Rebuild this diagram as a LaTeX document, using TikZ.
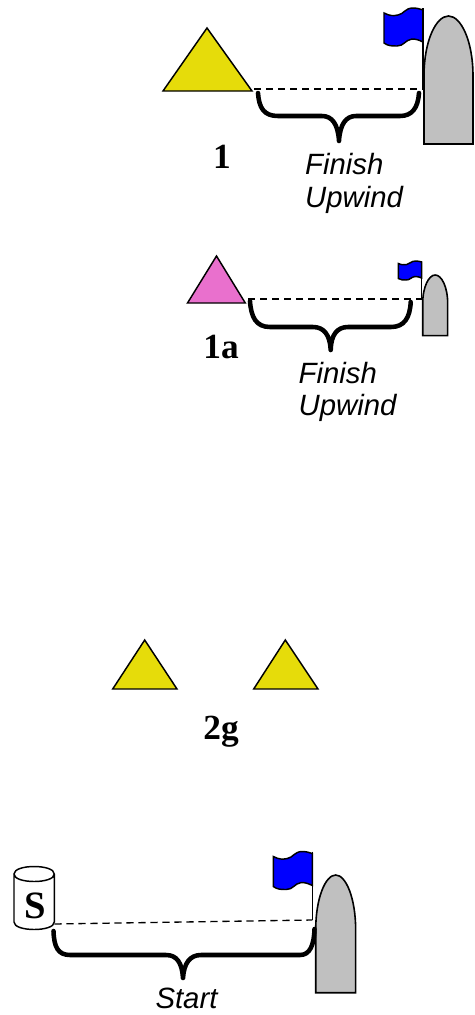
\documentclass[tikz,border=0pt]{standalone}
\usepackage{fontspec}
\setmainfont{Liberation Serif}
\newfontfamily\capfont{Liberation Sans}
\usetikzlibrary{positioning}
\definecolor{buoyyellow}{HTML}{E6DC0A}
\definecolor{buoypink}{HTML}{E970CD}
\definecolor{flagblue}{HTML}{0000FF}
\definecolor{boatgray}{HTML}{C0C0C0}
\tikzset{
  buoy/.style={draw=black,line width=1.1pt,line join=miter},
  boatline/.style={draw=black,fill=boatgray,line width=1.2pt},
  flagline/.style={draw=black,fill=flagblue,line width=1.1pt},
  pole/.style={draw=black,line width=1pt},
  finishline/.style={draw=black,line width=1pt,dash pattern=on 5.5pt off 3.5pt},
  holdbrace/.style={draw=black,line width=3.4pt,line cap=round,line join=round},
  marklabel/.style={font=\fontsize{26.5}{26.5}\selectfont\bfseries,inner sep=0pt},
  startnote/.style={font=\capfont\itshape\fontsize{22}{24.5}\selectfont,inner sep=0pt},
  sidenote/.style={startnote,align=left},
  pics/waveflag/.style={code={
    \path[flagline] (0,5) .. controls (6,8) and (9,8) .. (14,7) .. controls (20,6) and (21,0) .. (29,0)
      .. controls (33,0) and (36,1) .. (39,2) -- (39,34) .. controls (35,32) and (32,31) .. (28,31)
      .. controls (21,32) and (20,38) .. (13,38) .. controls (8,38) and (4,38) .. (0,35) -- cycle;
  }},
  pics/boathull/.style={code={
    \path[boatline] (0,128) -- (0,60) .. controls (0,25) and (12,0) .. (24.5,0)
      .. controls (37,0) and (49,25) .. (49,60) -- (49,128) -- cycle;
  }}
}
\begin{document}
\begin{tikzpicture}[x=0.75pt,y=-0.75pt]
  \useasboundingbox (0,0) rectangle (475,1015);

  % first row
  \path[buoy,fill=buoyyellow] (207,28) -- (252,91) coordinate (mark1) -- (163,91) -- cycle;
  \pic at (384,8) {waveflag};
  \pic at (424,16) {boathull};
  \draw[pole] (423,8) coordinate (top1) -- (423,89) coordinate (end1);
  \draw[finishline] (mark1) ++(2,-2) coordinate (start1) -- (end1);
  \coordinate (brl1) at (258,93);
  \coordinate (brr1) at (419,93);
  \coordinate (tip1) at (339,141);
  \draw[holdbrace] (brl1) .. controls (259,108) and (264,116) .. (278,116) -- (322,116)
    .. controls (332,116) and (338,124) .. (tip1)
    .. controls (340,124) and (346,116) .. (356,116) -- (400,116)
    .. controls (412,116) and (418,108) .. (brr1);
  \node[marklabel] (lab1) at (222,157) {1};
  \node[sidenote] (note1) at (354,183.5) {Finish\\Upwind};

  % second row
  \path[buoy,fill=buoypink] (216.5,256) -- (245.3,303) coordinate (mark1a) -- (187.5,303) -- cycle;
  \pic[xscale=0.6,yscale=0.5] at (398.3,261) {waveflag};
  \pic[xscale=0.51,yscale=0.474] at (422.7,275) {boathull};
  \draw[pole] (421.7,261) coordinate (top1a) -- (421.7,299) coordinate (end1a);
  \coordinate (start1a) at (248,299);
  \draw[finishline] (start1a) -- (end1a);
  \coordinate (brl1a) at (250,301);
  \coordinate (brr1a) at (410.7,302);
  \coordinate (tip1a) at (330.7,350);
  \draw[holdbrace] (brl1a) .. controls (251,317) and (256,327) .. (270,327) -- (313,327)
    .. controls (324,327) and (330,335) .. (tip1a)
    .. controls (331,335) and (337,327) .. (348,327) -- (391,327)
    .. controls (404,327) and (410,318) .. (brr1a);
  \node[marklabel] (lab1a) at (221,347) {1a};
  \node[sidenote] (note1a) at (347.5,392) {Finish\\Upwind};

  % third row
  \path[buoy,fill=buoyyellow] (144.7,640) -- (177,689) -- (112.7,689) -- cycle;
  \path[buoy,fill=buoyyellow] (285.3,640) -- (318,689) -- (253.7,689) -- cycle;
  \node[marklabel] (lab2g) at (221,732) {2g};

  % last row
  \path[draw=black,fill=white,line width=1.1pt] (14,874) -- (14,922)
    .. controls (14,932) and (54.3,932) .. (54.3,922) -- (54.3,874)
    .. controls (54.3,864) and (14,864) .. (14,874)
    .. controls (14,884) and (54.3,884) .. (54.3,874);
  \node[marklabel,font=\fontsize{29}{29}\selectfont\bfseries] (labS) at (35,906) {S};
  \pic at (273.3,851.5) {waveflag};
  \pic[xscale=0.816,yscale=0.92] at (315.7,875) {boathull};
  \draw[pole] (312.3,851.5) coordinate (top2) -- (312.3,920) coordinate (end2);
  \coordinate (start2) at (54.3,924);
  \draw[finishline] (start2) -- (end2);
  \coordinate (brl2) at (53.5,931);
  \coordinate (brr2) at (314.5,929);
  \coordinate (tip2) at (183,978);
  \draw[holdbrace] (brl2) .. controls (54,947) and (58,955) .. (70,955) -- (166,955)
    .. controls (177,955) and (182,963) .. (tip2)
    .. controls (184,963) and (190,955) .. (201,955) -- (300,955)
    .. controls (310,955) and (314,945) .. (brr2);
  \node[startnote,anchor=base] (note2) at (186.5,1008) {Start};
\end{tikzpicture}
\end{document}
